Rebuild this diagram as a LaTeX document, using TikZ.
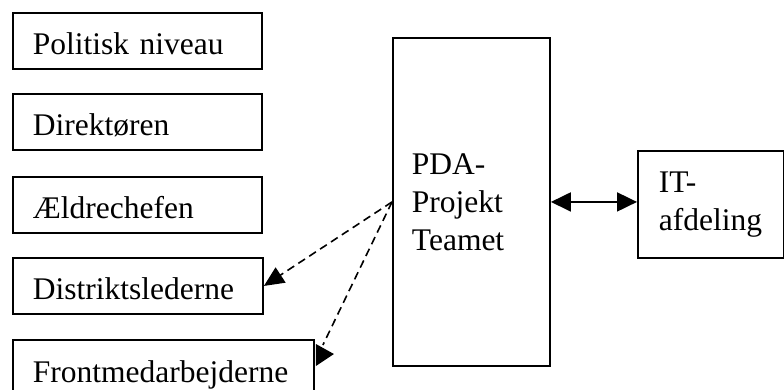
\documentclass[tikz,border=0pt]{standalone}
\usepackage{fontspec}
\setmainfont{Liberation Serif}
\usetikzlibrary{arrows.meta,calc}
\hyphenpenalty=10000
\exhyphenpenalty=10000
\begin{document}
\begin{tikzpicture}[x=1pt,y=-1pt,
  box/.style={draw, line width=1.9pt, rectangle, anchor=north west, align=left,
    inner ysep=0pt, inner xsep=20pt,
    font=\fontsize{31.5}{38}\selectfont},
  lvl/.style={box, minimum height=56pt, text height=27pt, text depth=0pt, text width=#1},
  solidlink/.style={line width=1.9pt},
  dashlink/.style={line width=1.6pt, dash pattern=on 8pt off 5pt},
  bigtip/.tip={Triangle[length=20pt,width=19pt]}
]
\useasboundingbox (0,0) rectangle (784,390);
\clip (0,0) rectangle (784,390);

% organisational levels
\node[lvl=209pt] (pol)   at (12,12)  {Politisk niveau};
\node[lvl=209pt] (dir)   at (12,93)  {Direktøren};
\node[lvl=209pt] (aeld)  at (12,176) {Ældrechefen};
\node[lvl=210pt] (dist)  at (12,257) {Distriktslederne};
\node[lvl=261pt, minimum height=58pt] (front) at (12,339) {Frontmedarbejderne};

% project team and IT department
\node[box, inner xsep=19pt, text width=119pt, minimum height=328pt] (pda) at (392,37)
  {PDA-\\Projekt\\Teamet};
\node[box, inner xsep=21pt, text width=104pt, minimum height=107pt] (it) at (637,150)
  {IT-\\afdeling};

% connectors
\draw[solidlink, bigtip-bigtip] (pda.east) -- (pda.east -| it.west);
\draw[dashlink, -{Triangle[length=20pt,width=18pt]}] (pda.west) -- (dist.east);
\coordinate (fend) at ($(front.north east)+(8,6)$);
\draw[dashlink] (pda.west) -- (fend);
\fill ($(front.north east)+(1,5)$) -- ($(front.north east)+(1,27)$)
  -- ($(front.north east)+(19,15)$) -- cycle;
\end{tikzpicture}
\end{document}
